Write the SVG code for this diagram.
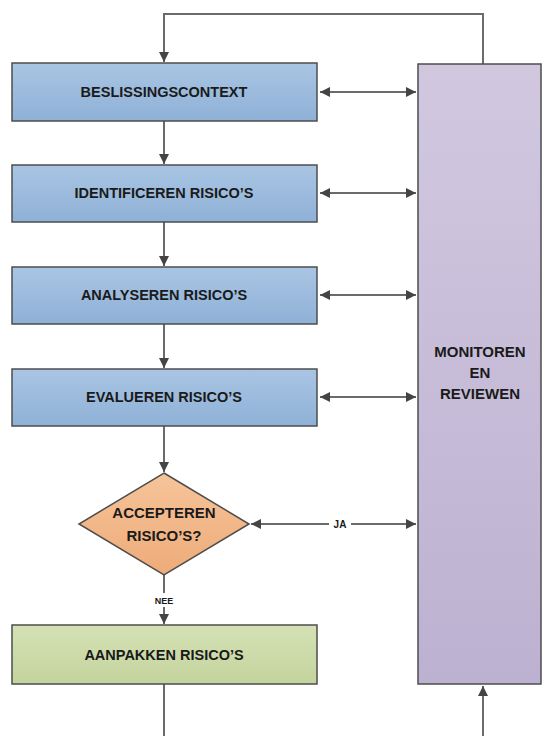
<svg xmlns="http://www.w3.org/2000/svg" width="542" height="736" viewBox="0 0 542 736">
<style>
.box{stroke:#4d4d4d;stroke-width:1.5}
.t{font-family:"Liberation Sans",Arial,sans-serif;font-weight:bold;fill:#1a1a1a;text-anchor:middle}
.b{font-size:14.5px}
.c{stroke:#6b6b6b;stroke-width:2;fill:none}
</style>
<defs>
<linearGradient id="gb" x1="0" y1="0" x2="0" y2="1"><stop offset="0" stop-color="#a9c5e3"/><stop offset="1" stop-color="#8fb1d7"/></linearGradient>
<linearGradient id="gp" x1="0" y1="0" x2="0" y2="1"><stop offset="0" stop-color="#d1c8e0"/><stop offset="1" stop-color="#bdb1d1"/></linearGradient>
<linearGradient id="gg" x1="0" y1="0" x2="0" y2="1"><stop offset="0" stop-color="#d5e1b5"/><stop offset="1" stop-color="#c4d49d"/></linearGradient>
<linearGradient id="go" x1="0" y1="0" x2="0" y2="1"><stop offset="0" stop-color="#f6c49a"/><stop offset="1" stop-color="#eeab78"/></linearGradient>
<marker id="a" viewBox="0 0 10 10" refX="10" refY="5" markerWidth="5" markerHeight="5" orient="auto-start-reverse" markerUnits="strokeWidth"><path d="M0,0 L10,5 L0,10 z" fill="#444"/></marker>
</defs>
<g id="connectors">
<path class="c" d="M483,64 V14 H164 V62" marker-end="url(#a)"/>
<path class="c" d="M164,121 V164" marker-end="url(#a)"/>
<path class="c" d="M164,222 V266" marker-end="url(#a)"/>
<path class="c" d="M164,324 V368" marker-end="url(#a)"/>
<path class="c" d="M164,426 V472" marker-end="url(#a)"/>
<path class="c" d="M164,575 V593"/>
<path class="c" d="M164,607 V624" marker-end="url(#a)"/>
<path class="c" d="M320,92 H416" marker-start="url(#a)" marker-end="url(#a)"/>
<path class="c" d="M320,193 H416" marker-start="url(#a)" marker-end="url(#a)"/>
<path class="c" d="M320,295 H416" marker-start="url(#a)" marker-end="url(#a)"/>
<path class="c" d="M320,397 H416" marker-start="url(#a)" marker-end="url(#a)"/>
<path class="c" d="M251,524 H416" marker-start="url(#a)" marker-end="url(#a)"/>
<path class="c" d="M164,684 V736"/>
<path class="c" d="M483,736 V686" marker-end="url(#a)"/>
<rect x="329" y="516" width="22" height="15" fill="#fff"/>
<text class="t" x="340" y="528" font-size="10">JA</text>
<text class="t" x="164" y="604" font-size="9">NEE</text>
</g>
<g id="n1"><rect class="box" x="12" y="63" width="305" height="58" fill="url(#gb)"/><text class="t b" x="164" y="97">BESLISSINGSCONTEXT</text></g>
<g id="n2"><rect class="box" x="12" y="165" width="305" height="57" fill="url(#gb)"/><text class="t b" x="164" y="198">IDENTIFICEREN RISICO’S</text></g>
<g id="n3"><rect class="box" x="12" y="267" width="305" height="57" fill="url(#gb)"/><text class="t b" x="164" y="300">ANALYSEREN RISICO’S</text></g>
<g id="n4"><rect class="box" x="12" y="369" width="305" height="57" fill="url(#gb)"/><text class="t b" x="164" y="402">EVALUEREN RISICO’S</text></g>
<g id="n5"><polygon class="box" points="164,473 249,524 164,575 79,524" fill="url(#go)"/><text class="t" x="164" y="518" font-size="15">ACCEPTEREN</text><text class="t" x="164" y="541" font-size="15">RISICO’S?</text></g>
<g id="n6"><rect class="box" x="12" y="625" width="305" height="59" fill="url(#gg)"/><text class="t b" x="164" y="660">AANPAKKEN RISICO’S</text></g>
<g id="n7"><rect class="box" x="418" y="64" width="123" height="620" fill="url(#gp)"/><text class="t" x="480" y="357" font-size="15">MONITOREN</text><text class="t" x="480" y="378" font-size="15">EN</text><text class="t" x="480" y="399" font-size="15">REVIEWEN</text></g>
</svg>
